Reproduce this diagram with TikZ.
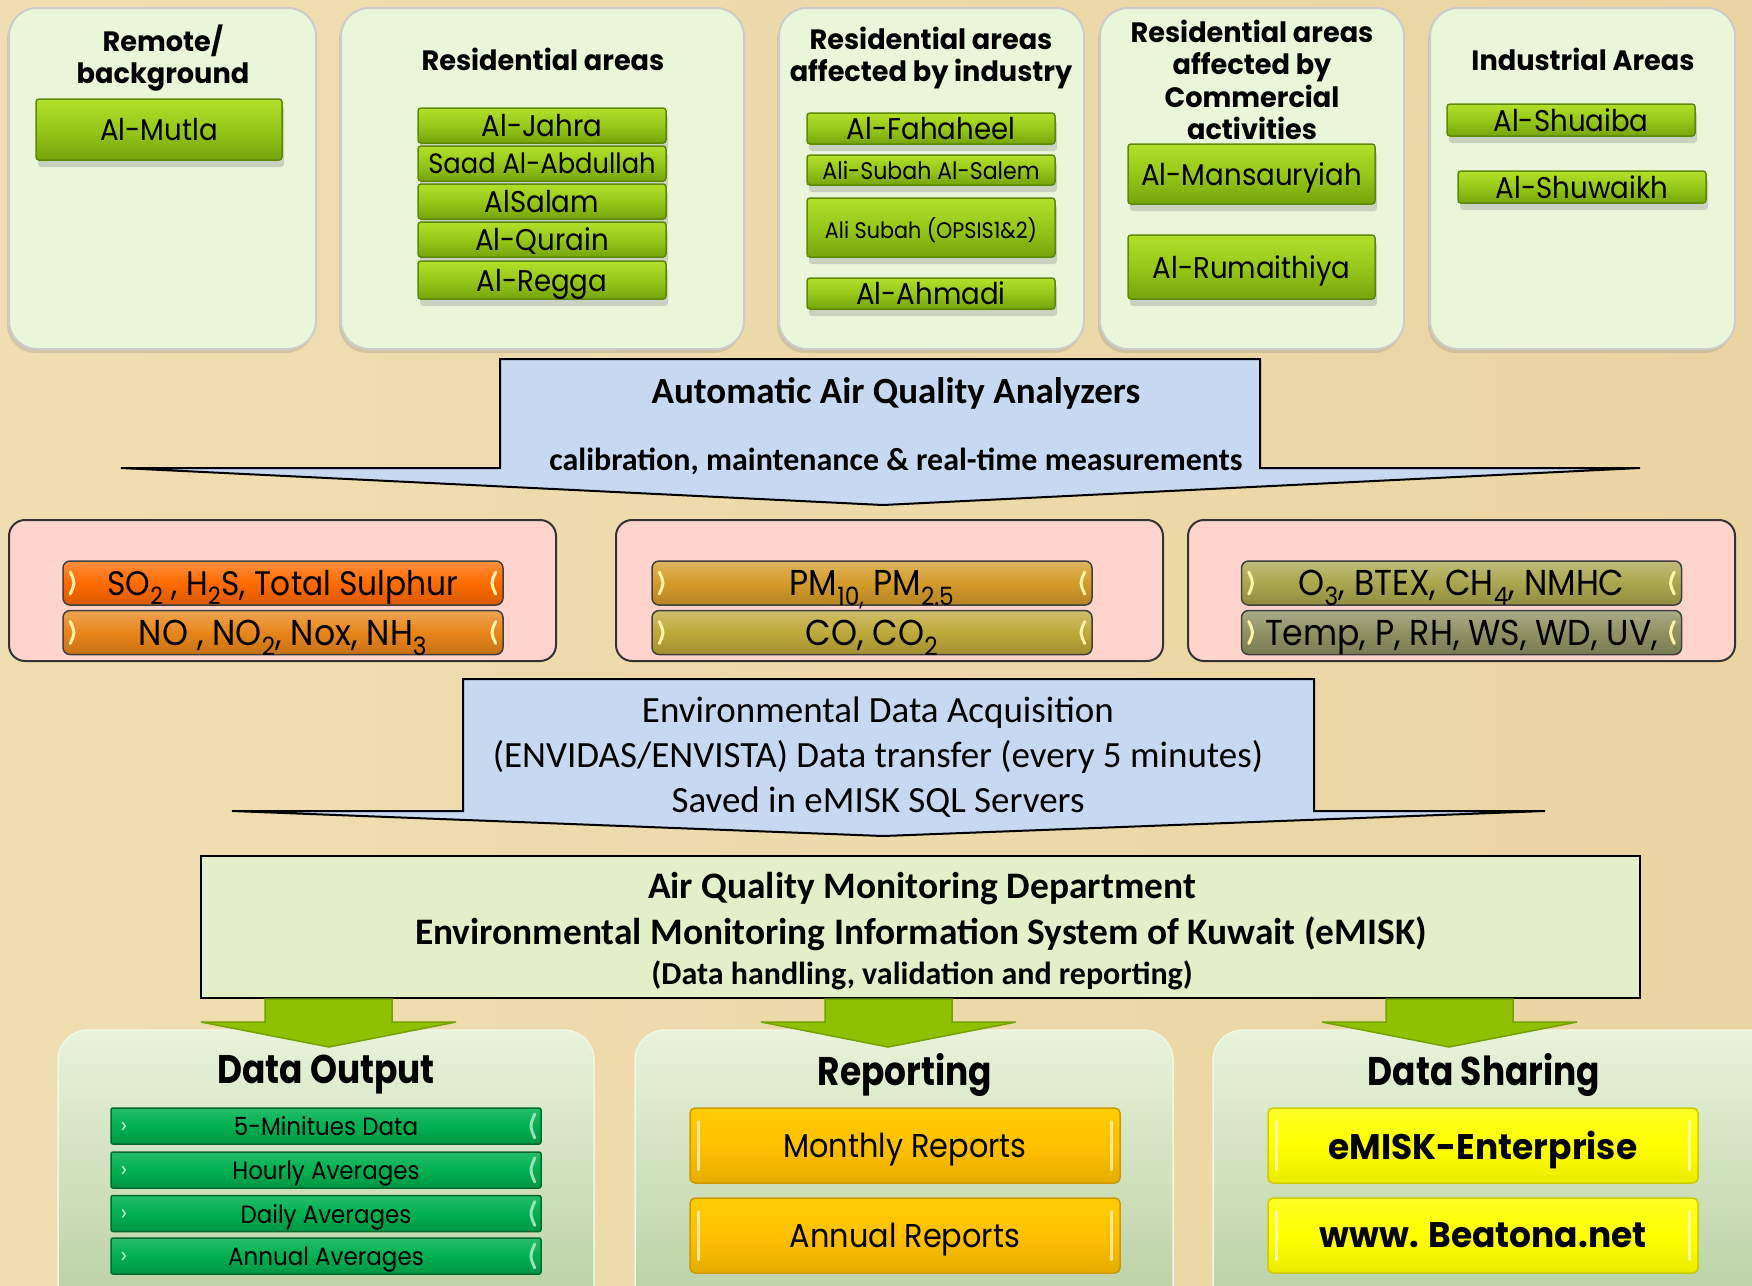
\documentclass[tikz,border=0pt]{standalone}
\usepackage{fontspec}
\newfontfamily\gothic[FakeStretch=0.92]{Poppins}
\newfontfamily\gothicB[FakeStretch=0.97]{Poppins}
\newfontfamily\gothicM[FakeStretch=0.86]{Poppins}
\newfontfamily\calib{Carlito}
\usetikzlibrary{shadows,calc}
\definecolor{bgA}{HTML}{F0DEB2}
\definecolor{bgB}{HTML}{EAD4A2}
\definecolor{topfill}{HTML}{E9F6D9}
\definecolor{gtop}{HTML}{B2E02A}
\definecolor{gmid}{HTML}{96C81A}
\definecolor{gbot}{HTML}{76A40C}
\definecolor{gbord}{HTML}{5C8A06}
\definecolor{callfill}{HTML}{C6D9F1}
\definecolor{pinkfill}{HTML}{FFD4CD}
\definecolor{pSO}{HTML}{FF6A00}
\definecolor{pNO}{HTML}{E8851A}
\definecolor{pPM}{HTML}{D49B2A}
\definecolor{pCO}{HTML}{BEA93A}
\definecolor{pO}{HTML}{AAA64E}
\definecolor{pT}{HTML}{8D9162}
\definecolor{hly}{HTML}{FFF3A8}
\definecolor{gboxfill}{HTML}{E3EFC9}
\definecolor{arrfill}{HTML}{8EC200}
\definecolor{arrdraw}{HTML}{74A000}
\definecolor{btop}{HTML}{E8F3DB}
\definecolor{bbot}{HTML}{B8CFA0}
\definecolor{dog}{HTML}{00B050}
\definecolor{rep}{HTML}{FFC000}
\definecolor{shy}{HTML}{FFFF00}
\tikzset{
  topbox/.style={draw=black!20, line width=2pt, fill=topfill, rounded corners=28pt, inner sep=0pt,
    drop shadow={shadow xshift=-2pt, shadow yshift=-4pt, opacity=.25}},
  head/.style={font=\gothicB\bfseries\fontsize{28}{32.5}\selectfont, align=center, inner sep=0pt},
  gbtn/.style={draw=gbord, line width=1.5pt, top color=gtop, bottom color=gbot, middle color=gmid,
    inner sep=0pt, rounded corners=3pt, font=\gothic\fontsize{30}{34}\selectfont, text depth=0pt,
    drop shadow={shadow xshift=2pt, shadow yshift=-7pt, opacity=.3}},
  callout/.style={draw=black, line width=2pt, fill=callfill, line join=miter},
  calltext/.style={font=\calib\fontsize{37}{44}\selectfont, inner sep=0pt},
  pinkbox/.style={draw=black!80, line width=2pt, fill=pinkfill, rounded corners=16pt, inner sep=0pt},
  pill/.style={draw=black!75, line width=1.5pt, rounded corners=7pt, inner sep=0pt, text depth=0pt,
    minimum width=440pt, minimum height=44pt, font=\gothic\fontsize{36}{40}\selectfont,
    top color=#1!75!white, bottom color=#1!85!black, middle color=#1},
  hl/.style={draw=hly, line width=3pt, line cap=round},
  gbox/.style={draw=black, line width=2pt, fill=gboxfill, inner sep=0pt},
  gtext/.style={font=\calib\bfseries\fontsize{37.4}{44}\selectfont, inner sep=0pt},
  arrowshape/.style={fill=arrfill, draw=arrdraw, line width=1.5pt, line join=miter},
  botbox/.style={top color=btop, bottom color=bbot, draw=btop!70!white, line width=1.5pt,
    rounded corners=30pt, inner sep=0pt},
  bothead/.style={font=\gothicM\bfseries\fontsize{40}{44}\selectfont, inner sep=0pt},
  dobtn/.style={draw=dog!60!black, line width=1.5pt, top color=dog!85!white, bottom color=dog!85!black,
    middle color=dog, inner sep=0pt, rounded corners=2pt, minimum width=430pt, minimum height=36pt,
    text depth=0pt, font=\gothic\fontsize{25}{29}\selectfont},
  repbtn/.style={draw=rep!80!black, line width=1.5pt, top color=rep!80!yellow, bottom color=rep!90!black,
    middle color=rep, inner sep=0pt, rounded corners=5pt, minimum width=430pt, minimum height=75pt,
    text depth=0pt, font=\gothic\fontsize{33}{38}\selectfont},
  shbtn/.style={draw=shy!80!black, line width=1.5pt, top color=shy!85!white, bottom color=shy!92!black,
    middle color=shy, inner sep=0pt, rounded corners=5pt, minimum width=430pt, minimum height=75pt,
    text depth=0pt, font=\gothicB\bfseries\fontsize{35.5}{40}\selectfont},
}
\begin{document}
\begin{tikzpicture}[x=1pt,y=-1pt]
\useasboundingbox (0,0) rectangle (1752,1285);
\shade[left color=bgA, right color=bgB] (0,0) rectangle (1752,1285);

% ---------- top boxes ----------
\node[topbox, minimum width=307pt, minimum height=341pt] (tb1) at (162.5,178.5) {};
\node[topbox, minimum width=403pt, minimum height=341pt] (tb2) at (542.5,178.5) {};
\node[topbox, minimum width=305pt, minimum height=341pt] (tb3) at (931.5,178.5) {};
\node[topbox, minimum width=304pt, minimum height=341pt] (tb4) at (1252,178.5) {};
\node[topbox, minimum width=305pt, minimum height=341pt] (tb5) at (1582.5,178.5) {};

\node[head] (h1) at (163,58) {Remote/\\background};
\node[head] (h2) at (543,59) {Residential areas};
\node[head] (h3) at (931,58) {Residential areas\\affected by industry};
\node[head] (h4) at (1252,80) {Residential areas\\affected by\\Commercial\\activities};
\node[head] (h5) at (1583,59) {Industrial Areas};

\node[gbtn, minimum width=246pt, minimum height=61pt] (mutla) at (159,129.5) {Al-Mutla};

\node[gbtn, minimum width=248pt, minimum height=35pt] (jahra) at (542,125.5) {Al-Jahra};
\node[gbtn, minimum width=248pt, minimum height=35pt, font=\gothic\fontsize{28}{32}\selectfont] (saad) at (542,163.5) {Saad Al-Abdullah};
\node[gbtn, minimum width=248pt, minimum height=35pt] (salam) at (542,201.5) {AlSalam};
\node[gbtn, minimum width=248pt, minimum height=35pt] (qurain) at (542,239.5) {Al-Qurain};
\node[gbtn, minimum width=248pt, minimum height=38pt] (regga) at (542,280) {Al-Regga};

\node[gbtn, minimum width=248pt, minimum height=31pt] (faha) at (931,128.5) {Al-Fahaheel};
\node[gbtn, minimum width=248pt, minimum height=30pt, font=\gothic\fontsize{24}{28}\selectfont] (alisubah) at (931,170) {Ali-Subah Al-Salem};
\node[gbtn, minimum width=248pt, minimum height=59pt, font=\gothic\fontsize{22.5}{26}\selectfont] (opsis) at (931,227.5) {Ali Subah (OPSIS1\&2)};
\node[gbtn, minimum width=248pt, minimum height=31pt] (ahmadi) at (931,293.5) {Al-Ahmadi};

\node[gbtn, minimum width=247pt, minimum height=60pt] (mans) at (1251.5,174) {Al-Mansauryiah};
\node[gbtn, minimum width=247pt, minimum height=64pt] (rum) at (1251.5,267) {Al-Rumaithiya};

\node[gbtn, minimum width=248pt, minimum height=32pt] (shuaiba) at (1571,120) {Al-Shuaiba};
\node[gbtn, minimum width=248pt, minimum height=32pt] (shuwaikh) at (1582,187) {Al-Shuwaikh};

% ---------- callout 1 ----------
\draw[callout] (500,359) -- (1260,359) -- (1260,468) -- (1640,468) -- (883,505) -- (121,468) -- (500,468) -- cycle;
\node[calltext, font=\calib\bfseries\fontsize{37}{44}\selectfont] (aqa) at (896,393) {Automatic Air Quality Analyzers};
\node[calltext, font=\calib\bfseries\fontsize{32}{38}\selectfont] (calib) at (896,461) {calibration, maintenance \& real-time measurements};

% ---------- pink boxes ----------
\node[pinkbox, minimum width=547pt, minimum height=141pt] (pk1) at (282.5,590.5) {};
\node[pinkbox, minimum width=547pt, minimum height=141pt] (pk2) at (889.5,590.5) {};
\node[pinkbox, minimum width=547pt, minimum height=141pt] (pk3) at (1461.5,590.5) {};

\node[pill=pSO, font=\gothic\fontsize{34}{40}\selectfont] (so) at (283,583) {SO\textsubscript{2} , H\textsubscript{2}S, Total Sulphur};
\node[pill=pNO] (no) at (283,632.5) {NO , NO\textsubscript{2}, Nox, NH\textsubscript{3}};
\node[pill=pPM] (pm) at (872,583) {PM\textsubscript{10,} PM\textsubscript{2.5}};
\node[pill=pCO] (co) at (872,632.5) {CO, CO\textsubscript{2}};
\node[pill=pO] (o3) at (1461.5,583) {O\textsubscript{3}, BTEX, CH\textsubscript{4}, NMHC};
\node[pill=pT] (temp) at (1461.5,632.5) {Temp, P, RH, WS, WD, UV,};

\foreach \n in {so,no,pm,co,o3,temp}{
  \draw[hl] ($(\n.west)+(8,-11)$) .. controls ($(\n.west)+(13,0)$) .. ($(\n.west)+(8,11)$);
  \draw[hl] ($(\n.east)+(-8,-11)$) .. controls ($(\n.east)+(-13,0)$) .. ($(\n.east)+(-8,11)$);
}

% ---------- callout 2 ----------
\draw[callout] (463,679) -- (1314,679) -- (1314,811) -- (1545,811) -- (883,836) -- (232,811) -- (463,811) -- cycle;
\node[calltext] (eda1) at (878,713) {Environmental Data Acquisition};
\node[calltext] (eda2) at (878,757) {(ENVIDAS/ENVISTA) Data transfer (every 5 minutes)};
\node[calltext] (eda3) at (878,802) {Saved in eMISK SQL Servers};

% ---------- green box ----------
\node[gbox, minimum width=1439pt, minimum height=142pt] (dept) at (920.5,927) {};
\node[gtext] (g1) at (922,889) {Air Quality Monitoring Department};
\node[gtext] (g2) at (921,934) {Environmental Monitoring Information System of Kuwait (eMISK)};
\node[gtext, font=\calib\bfseries\fontsize{32}{38}\selectfont] (g3) at (922,975) {(Data handling, validation and reporting)};

% ---------- bottom boxes ----------
\node[botbox, minimum width=536pt, minimum height=290pt] (bb1) at (326,1175) {};
\node[botbox, minimum width=538pt, minimum height=290pt] (bb2) at (904,1175) {};
\node[botbox, minimum width=567pt, minimum height=290pt] (bb3) at (1496.5,1175) {};

% ---------- arrows ----------
\draw[arrowshape] (265,999) -- (392,999) -- (392,1022) -- (456,1022) -- (329,1047) -- (201,1022) -- (265,1022) -- cycle;
\draw[arrowshape] (825,999) -- (952,999) -- (952,1022) -- (1016,1022) -- (888,1047) -- (761,1022) -- (825,1022) -- cycle;
\draw[arrowshape] (1386,999) -- (1513,999) -- (1513,1022) -- (1577,1022) -- (1449,1047) -- (1322,1022) -- (1386,1022) -- cycle;

\node[bothead] (t1) at (326,1075) {Data Output};
\node[bothead] (t2) at (905,1075) {Reporting};
\node[bothead] (t3) at (1484,1075) {Data Sharing};

\node[dobtn] (d1) at (326,1126) {5-Minitues Data};
\node[dobtn] (d2) at (326,1170) {Hourly Averages};
\node[dobtn] (d3) at (326,1213.5) {Daily Averages};
\node[dobtn] (d4) at (326,1256) {Annual Averages};
\foreach \n in {d1,d2,d3,d4}{
  \draw[draw=white!70!dog, line width=1.5pt] ($(\n.west)+(12,-4)$) -- ($(\n.west)+(15,0)$) -- ($(\n.west)+(12,4)$);
  \draw[draw=white!60!dog, line width=3pt, line cap=round] ($(\n.east)+(-7,-12)$) .. controls ($(\n.east)+(-12,0)$) .. ($(\n.east)+(-7,12)$);
}

\node[repbtn] (r1) at (905,1145.5) {Monthly Reports};
\node[repbtn] (r2) at (905,1235.5) {Annual Reports};
\node[shbtn] (s1) at (1483,1145.5) {eMISK-Enterprise};
\node[shbtn] (s2) at (1483,1235.5) {www. Beatona.net};
\foreach \n/\c in {r1/rep,r2/rep,s1/shy,s2/shy}{
  \draw[draw=\c!40!white, line width=3pt, line cap=round] ($(\n.west)+(9,-24)$) -- ($(\n.west)+(9,24)$);
  \draw[draw=\c!40!white, line width=3pt, line cap=round] ($(\n.east)+(-9,-24)$) -- ($(\n.east)+(-9,24)$);
}
\end{tikzpicture}
\end{document}
